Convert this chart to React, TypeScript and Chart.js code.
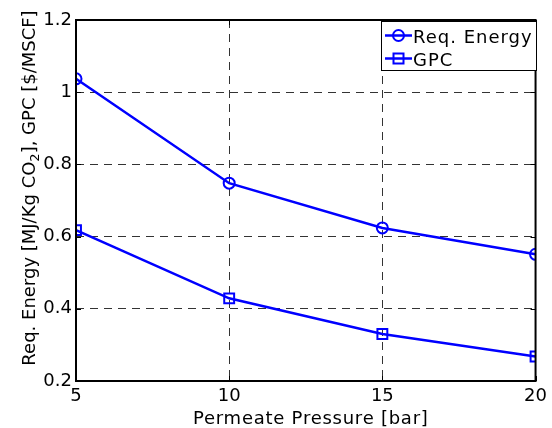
import React, { useEffect, useRef } from 'react';
import { Chart, registerables } from 'chart.js';

Chart.register(...registerables);

const pressures = [5, 10, 15, 20];
const reqEnergy = [1.037, 0.748, 0.624, 0.551];
const gpc = [0.618, 0.429, 0.33, 0.268];
const xTicks = [5, 10, 15, 20];
const yTicks = [0.2, 0.4, 0.6, 0.8, 1.0, 1.2];
const yTickLabels = ['0.2', '0.4', '0.6', '0.8', '1', '1.2'];
const seriesLabels = ['Req. Energy', 'GPC'];
const xTitle = 'Permeate Pressure [bar]';
const yTitleParts = ['Req. Energy [MJ/Kg CO', '2', '], GPC [$/MSCF]'];

const FONT = "'DejaVu Sans', Verdana, sans-serif";
const BLUE = '#0000ff';

function setSpacing(ctx: any, px: number) {
  try {
    ctx.letterSpacing = px + 'px';
  } catch (e) {
    /* ignore */
  }
}

const framePlugin = {
  id: 'frame',
  afterDraw(chart: any) {
    const { ctx, chartArea } = chart;
    const { left, right, top, bottom } = chartArea;
    const xs = chart.scales.x;
    const ys = chart.scales.y;
    ctx.save();
    // inner ticks
    ctx.strokeStyle = '#000';
    ctx.lineWidth = 1;
    ctx.beginPath();
    const tl = 5;
    xTicks.forEach((v) => {
      const px = Math.round(xs.getPixelForValue(v)) + 0.5;
      ctx.moveTo(px, bottom);
      ctx.lineTo(px, bottom - tl);
      ctx.moveTo(px, top);
      ctx.lineTo(px, top + tl);
    });
    yTicks.forEach((v) => {
      const py = Math.round(ys.getPixelForValue(v)) + 0.5;
      ctx.moveTo(left, py);
      ctx.lineTo(left + tl, py);
      ctx.moveTo(right, py);
      ctx.lineTo(right - tl, py);
    });
    ctx.stroke();
    // frame
    ctx.lineWidth = 2;
    ctx.strokeStyle = '#000';
    ctx.strokeRect(left, top, right - left, bottom - top);

    // x title
    ctx.fillStyle = '#000';
    ctx.font = `18px ${FONT}`;
    setSpacing(ctx, 0.75);
    ctx.textBaseline = 'alphabetic';
    ctx.textAlign = 'center';
    ctx.fillText(xTitle, (left + right) / 2 + 5, 423.5);

    // y title (rotated, with subscript)
    ctx.save();
    ctx.translate(34.5, 188);
    ctx.rotate(-Math.PI / 2);
    ctx.textAlign = 'left';
    const mainFont = `18px ${FONT}`;
    const subFont = `13px ${FONT}`;
    setSpacing(ctx, 0);
    ctx.font = mainFont;
    const w0 = ctx.measureText(yTitleParts[0]).width;
    const w2 = ctx.measureText(yTitleParts[2]).width;
    ctx.font = subFont;
    const w1 = ctx.measureText(yTitleParts[1]).width;
    const total = w0 + w1 + w2;
    let x = -total / 2;
    ctx.font = mainFont;
    ctx.fillText(yTitleParts[0], x, 0);
    x += w0;
    ctx.font = subFont;
    ctx.fillText(yTitleParts[1], x, 4);
    x += w1;
    ctx.font = mainFont;
    ctx.fillText(yTitleParts[2], x, 0);
    ctx.restore();

    // legend
    const bx = 381.5, by = 21.5, bw = 155, bh = 49;
    ctx.fillStyle = '#fff';
    ctx.fillRect(bx, by, bw, bh);
    ctx.lineWidth = 1;
    ctx.strokeStyle = '#000';
    ctx.strokeRect(bx, by, bw, bh);
    const rows = [35.5, 58.5];
    const baselines = [42.5, 65.5];
    chart.data.datasets.forEach((ds: any, i: number) => {
      const y = rows[i];
      ctx.strokeStyle = BLUE;
      ctx.lineWidth = 2.5;
      ctx.beginPath();
      ctx.moveTo(385, y);
      ctx.lineTo(412, y);
      ctx.stroke();
      ctx.lineWidth = 2;
      ctx.beginPath();
      if (ds.pointStyle === 'circle') {
        ctx.arc(398.5, y, 5.5, 0, Math.PI * 2);
      } else {
        ctx.rect(393.5, y - 5, 10, 10);
      }
      ctx.stroke();
      ctx.fillStyle = '#000';
      ctx.font = `18px ${FONT}`;
      setSpacing(ctx, 1);
      ctx.textBaseline = 'alphabetic';
      ctx.textAlign = 'left';
      ctx.fillText(ds.label, 413, baselines[i]);
    });
    ctx.restore();
  },
};

export default function App() {
  const ref = useRef<HTMLCanvasElement>(null);
  useEffect(() => {
    if (!ref.current) return;
    const chart = new Chart(ref.current, {
      type: 'line',
      data: {
        datasets: [
          {
            label: seriesLabels[0],
            data: pressures.map((x, i) => ({ x, y: reqEnergy[i] })),
            borderColor: BLUE,
            backgroundColor: 'rgba(0,0,0,0)',
            borderWidth: 2.5,
            pointStyle: 'circle',
            pointRadius: 5.5,
            pointBorderWidth: 2,
            pointBorderColor: BLUE,
            pointBackgroundColor: 'rgba(0,0,0,0)',
            tension: 0,
          },
          {
            label: seriesLabels[1],
            data: pressures.map((x, i) => ({ x, y: gpc[i] })),
            borderColor: BLUE,
            backgroundColor: 'rgba(0,0,0,0)',
            borderWidth: 2.5,
            pointStyle: 'rect',
            pointRadius: 7,
            pointBorderWidth: 2,
            pointBorderColor: BLUE,
            pointBackgroundColor: 'rgba(0,0,0,0)',
            tension: 0,
          },
        ],
      },
      options: {
        responsive: false,
        animation: false,
        layout: { padding: { top: 20, right: 15, left: 0, bottom: 0 } },
        plugins: {
          legend: { display: false },
          tooltip: { enabled: false },
        },
        scales: {
          x: {
            type: 'linear',
            min: 5,
            max: 20,
            afterBuildTicks: (s: any) => {
              s.ticks = xTicks.map((v) => ({ value: v }));
            },
            afterFit: (s: any) => {
              s.height = 47;
            },
            ticks: {
              color: '#000',
              font: { family: FONT, size: 18 },
              padding: 5,
              maxRotation: 0,
              callback: (v: any) => String(v),
            },
            grid: { color: '#333', lineWidth: 1, drawTicks: false },
            border: { display: false, dash: [8, 6] },
            title: { display: false },
          },
          y: {
            type: 'linear',
            min: 0.2,
            max: 1.2,
            afterBuildTicks: (s: any) => {
              s.ticks = yTicks.map((v) => ({ value: v }));
            },
            afterFit: (s: any) => {
              s.width = 76;
            },
            ticks: {
              color: '#000',
              font: { family: FONT, size: 18 },
              padding: 4,
              callback: (v: any) => {
                const i = yTicks.findIndex((t) => Math.abs(t - v) < 1e-6);
                return i >= 0 ? yTickLabels[i] : '';
              },
            },
            grid: { color: '#333', lineWidth: 1, drawTicks: false },
            border: { display: false, dash: [8, 6] },
            title: { display: false },
          },
        },
      },
      plugins: [framePlugin],
    } as any);
    return () => chart.destroy();
  }, []);
  return (
    <div style={{ position: 'fixed', left: 0, top: 0, width: 552, height: 428, background: '#fff' }}>
      <canvas ref={ref} width={552} height={428} style={{ display: 'block', width: 552, height: 428 }} />
    </div>
  );
}
